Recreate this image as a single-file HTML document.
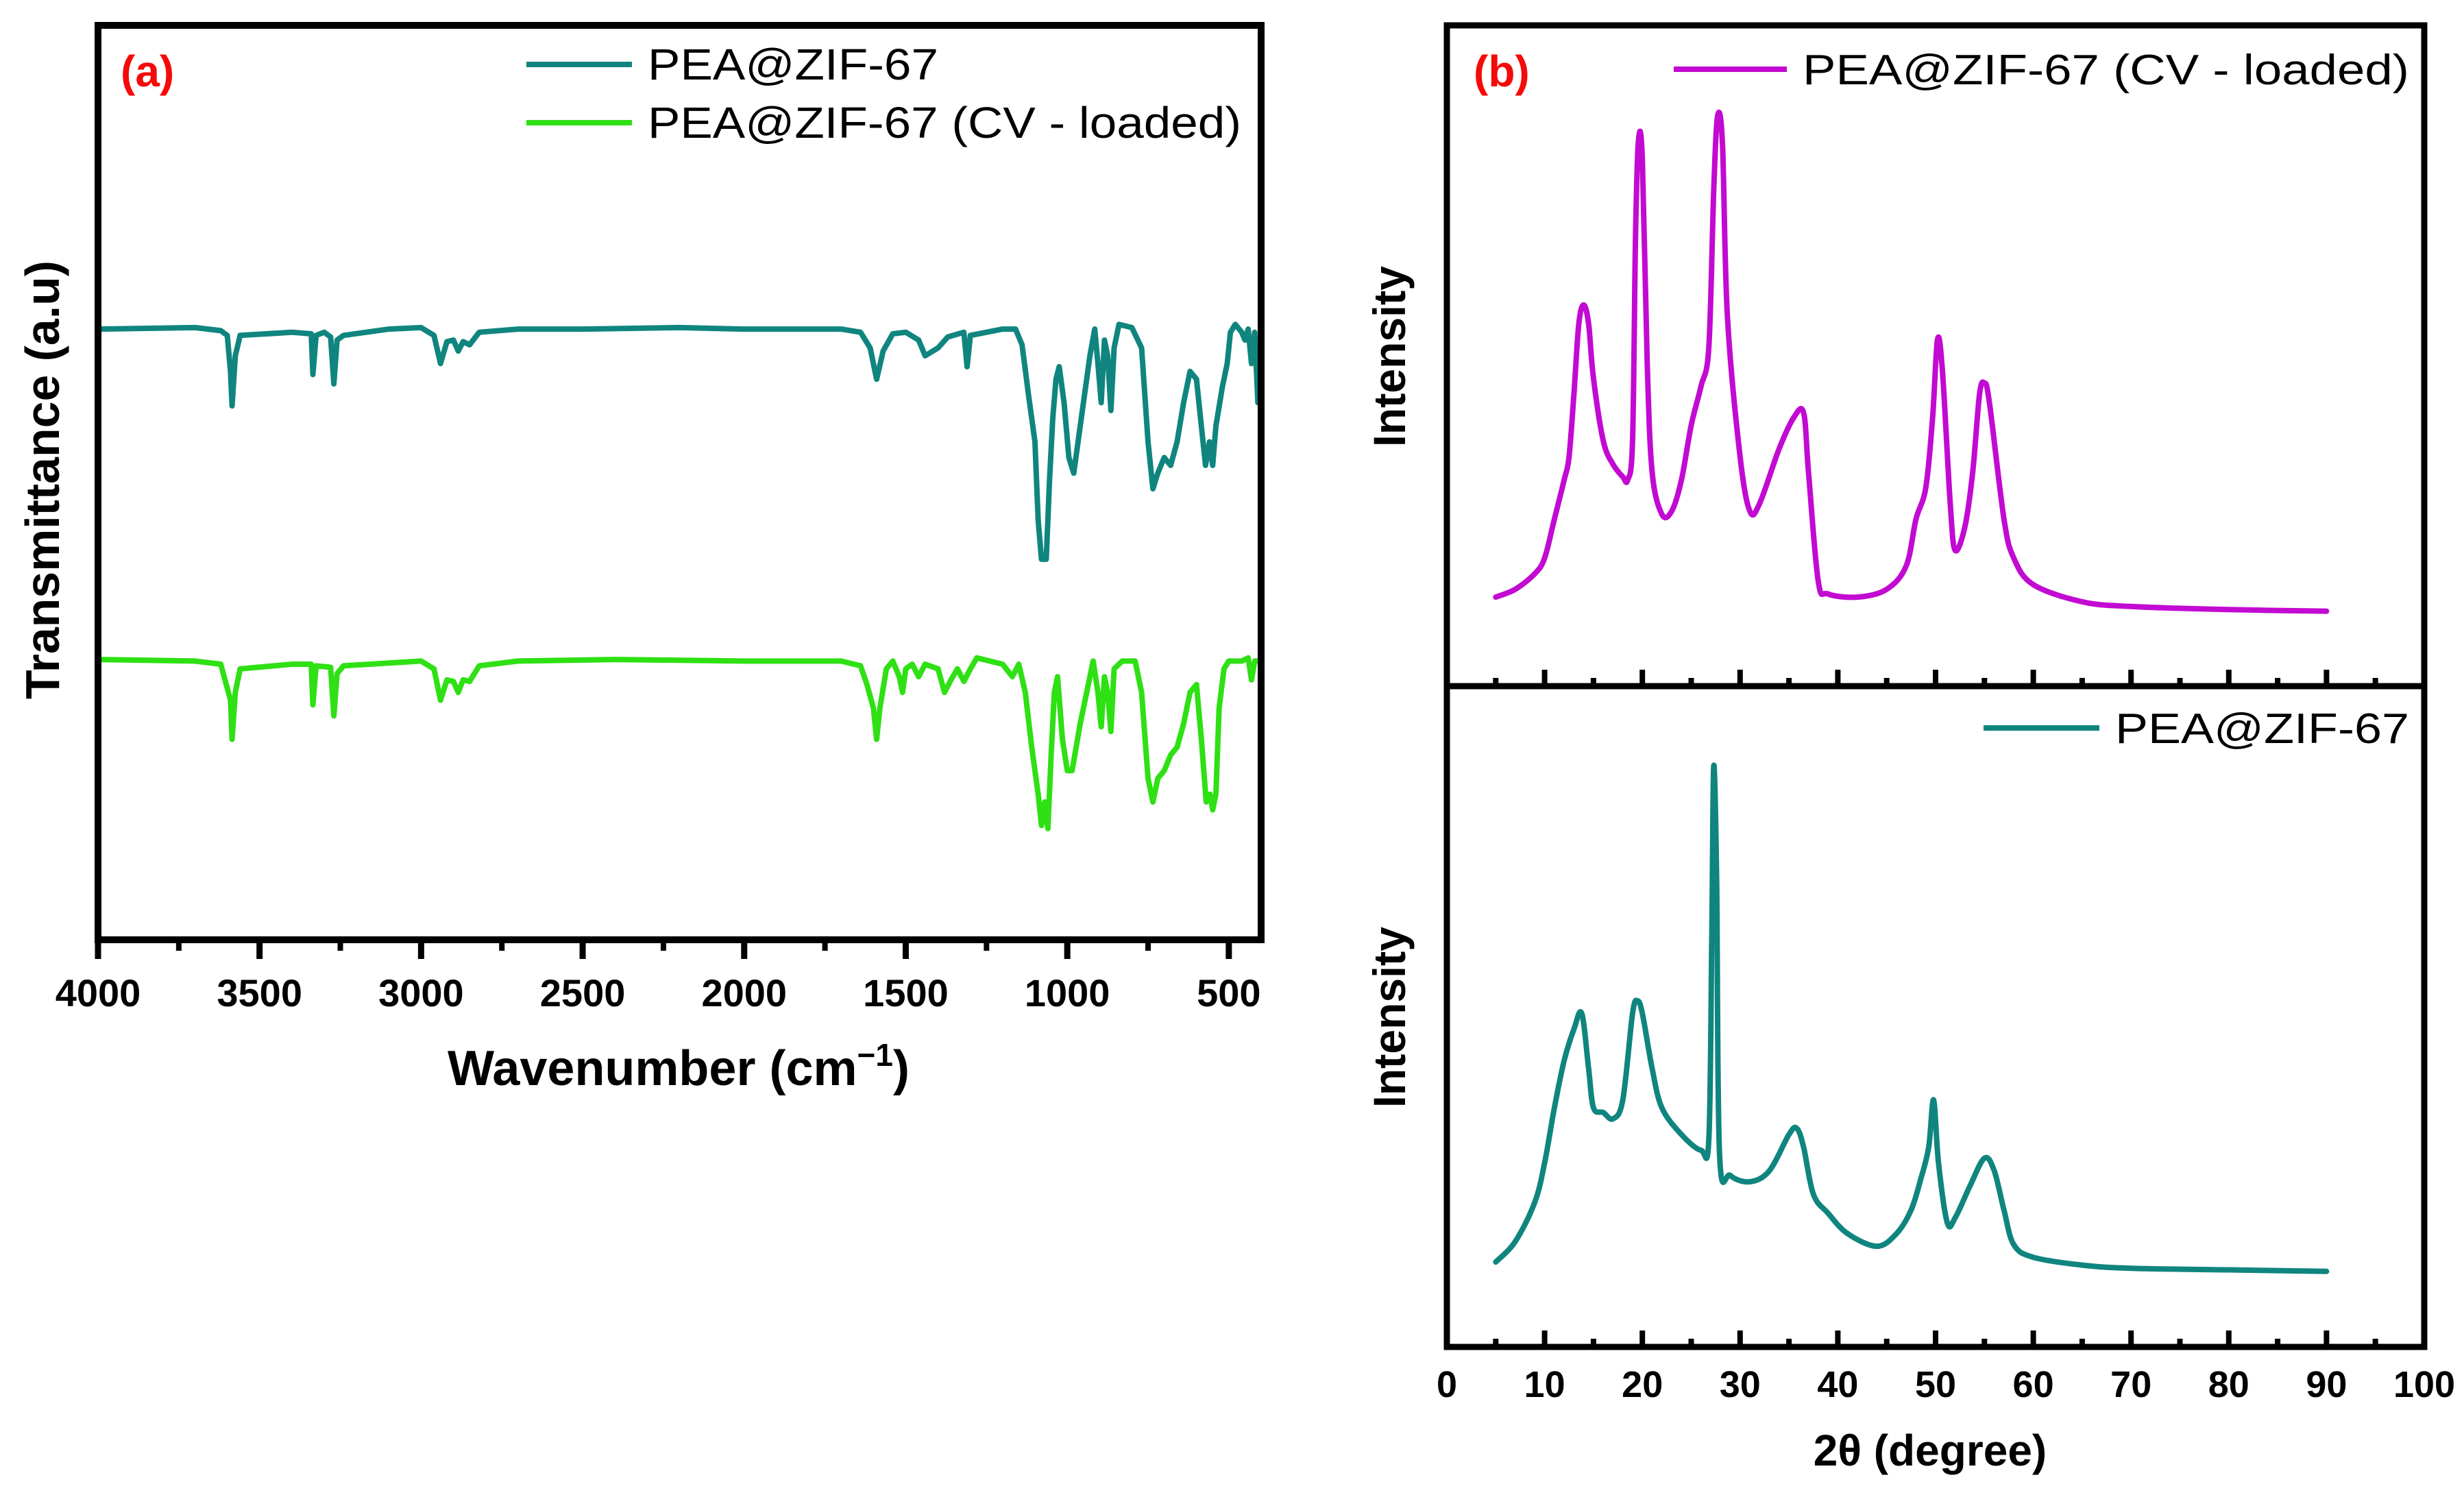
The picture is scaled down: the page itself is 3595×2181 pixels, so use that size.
<!DOCTYPE html>
<html><head><meta charset="utf-8">
<style>
html,body{margin:0;padding:0;background:#fff;}
svg{display:block;}
text{font-family:"Liberation Sans",Arial,sans-serif;}
</style></head>
<body>
<svg id="fig" width="3595" height="2181" viewBox="0 0 3595 2181" xmlns="http://www.w3.org/2000/svg">
<rect x="0" y="0" width="3595" height="2181" fill="#fff"/>
<g id="panelA"></g>
<g id="panelB"></g>
</svg>
<script>
// ---------- Panel (a) FTIR data ----------
const ftirWnTeal = [4000,3700,3620,3600,3590,3585,3575,3560,3400,3340,3335,3325,3300,3280,3270,3260,3240,3100,3000,2960,2940,2920,2900,2885,2870,2850,2820,2700,2500,2200,2000,1700,1640,1610,1590,1570,1540,1500,1460,1440,1400,1370,1320,1310,1300,1200,1160,1140,1120,1100,1090,1080,1065,1055,1045,1035,1025,1010,995,980,960,930,915,905,895,885,875,865,855,840,800,770,750,735,720,700,680,660,640,620,600,585,572,560,550,540,520,505,495,480,460,450,440,430,420,410,400];
const ftirTeal = [392,393,391,388,365,343,375,388,390,389,363,388,390,387,357,385,388,392,393,388,370,384,385,378,384,382,390,392,392,393,392,392,390,380,360,378,389,390,385,375,380,387,390,368,388,392,392,382,350,320,270,245,245,295,335,360,368,345,310,300,330,375,392,370,345,385,375,340,380,395,393,380,320,290,300,310,305,320,345,365,360,330,305,320,305,330,355,370,390,395,390,385,392,370,390,345,355];
const ftirWnGreen = [4000,3700,3620,3590,3585,3575,3560,3400,3340,3335,3325,3280,3270,3260,3240,3000,2960,2940,2920,2900,2885,2870,2850,2820,2700,2400,2000,1700,1640,1620,1600,1590,1580,1560,1540,1520,1510,1500,1480,1460,1440,1400,1380,1360,1340,1320,1300,1280,1240,1200,1170,1150,1130,1110,1090,1080,1070,1060,1050,1040,1030,1015,1000,985,960,940,920,905,895,885,875,865,855,830,790,770,750,735,720,700,680,660,640,620,600,585,570,558,550,540,530,515,500,460,440,430,420,400];
const ftirGreen = [181,180,178,155,130,160,175,178,178,152,177,176,145,172,177,180,175,155,168,167,160,168,167,177,180,181,180,180,177,165,150,130,150,175,180,170,160,175,178,170,178,175,160,168,175,167,175,182,180,178,170,178,160,125,95,75,90,73,120,160,170,130,110,110,140,160,180,160,138,170,160,135,175,180,180,160,105,90,105,110,120,125,140,160,165,130,90,95,85,95,150,175,180,180,182,168,180,180];
const ftirTicks = [4000,3500,3000,2500,2000,1500,1000,500];
const ftirMinor = [3750,3250,2750,2250,1750,1250,750];

// ---------- Panel (b) XRD data ----------
const xrdXTop = [5,7,9,10,11,12,12.5,13,13.5,14,14.5,15,16,17,18,18.5,19,19.3,19.6,20,20.5,21,22,23,24,25,26,26.8,27.3,27.7,28.2,28.7,30,31,32,34,35.5,36.5,37,38,39,42,45,47,48,49,49.7,50.2,50.7,51.5,52,53,53.8,54.5,55,55.5,57,58,60,65,70,80,90];
const xrdTop = [57,62,72,82,107,132,147,187,232,244,232,197,157,142,134,132,157,287,349,337,207,137,110,112,132,167,192,217,317,365,347,237,147,112,117,152,172,175,137,67,59,57,62,77,107,127,172,222,202,117,87,102,137,187,194,182,107,82,65,54,51,49,48];
const xrdXBot = [5,7,9,10,11,12,13,13.8,14.5,15,16,17,18,19,19.5,20,21,22,24,26,26.8,27.1,27.3,27.6,27.9,29,31,33,35,35.8,36.5,37.5,39,41,44,46,47.5,48.5,49.3,49.8,50.3,51.2,52,53.5,55,56,57,58,60,65,70,80,90];
const xrdBot = [54,67,92,117,152,182,202,212,177,152,149,145,157,212,220,212,177,152,135,125,132,257,369,297,122,109,105,112,135,139,127,97,85,72,64,72,87,107,127,157,117,79,82,102,120,112,87,65,57,52,50,49,48];
const xrdTicks = [0,10,20,30,40,50,60,70,80,90,100];
const xrdMinor = [5,15,25,35,45,55,65,75,85,95];

const NS = 'http://www.w3.org/2000/svg';
function mk(parent, tag, attrs, txt){
  const e = document.createElementNS(NS, tag);
  for (const k in attrs) e.setAttribute(k, attrs[k]);
  if (txt !== undefined) e.textContent = txt;
  parent.appendChild(e);
  return e;
}
const TEAL = '#10857f', GREEN = '#2fe014', MAG = '#c20ad2';

function line(parent, xs, ys, fx, fy, color, name, smooth){
  const P = xs.map((x,i)=>[fx(x), fy(ys[i])]);
  let d = 'M'+P[0][0].toFixed(1)+','+P[0][1].toFixed(1);
  for (let i=0;i<P.length-1;i++){
    if (!smooth){ d += ' L'+P[i+1][0].toFixed(1)+','+P[i+1][1].toFixed(1); continue; }
    const p0 = P[Math.max(i-1,0)], p1 = P[i], p2 = P[i+1], p3 = P[Math.min(i+2,P.length-1)];
    const t = 0.5/3;
    let c1x = p1[0] + (p2[0]-p0[0])*t, c1y = p1[1] + (p2[1]-p0[1])*t;
    let c2x = p2[0] - (p3[0]-p1[0])*t, c2y = p2[1] - (p3[1]-p1[1])*t;
    // keep control points within segment x range
    c1x = Math.min(Math.max(c1x,p1[0]),p2[0]); c2x = Math.min(Math.max(c2x,p1[0]),p2[0]);
    d += ' C'+c1x.toFixed(1)+','+c1y.toFixed(1)+' '+c2x.toFixed(1)+','+c2y.toFixed(1)+' '+p2[0].toFixed(1)+','+p2[1].toFixed(1);
  }
  const p = mk(parent,'path',{d:d,fill:'none',stroke:color,'stroke-width':8,'stroke-linejoin':'round','stroke-linecap':'round'});
  
  
  return p;
}

// ===== Panel A =====
const A = document.getElementById('panelA');
const aL = 143, aR = 1840, aT = 37, aB = 1371;
const ax = w => aL + (4000 - w) / 3600 * (aR - aL);
const ay = v => aB - (v - 2) / 584 * (aB - aT);
line(A, ftirWnTeal, ftirTeal, ax, ay, TEAL, 'ftir-line-pea-zif67', false);
line(A, ftirWnGreen, ftirGreen, ax, ay, GREEN, 'ftir-line-cv-loaded', false);
const fa = mk(A,'rect',{x:aL,y:aT,width:aR-aL,height:aB-aT,fill:'none',stroke:'#000','stroke-width':10});


ftirTicks.forEach(t=>{
  const x = ax(t);
  const tk = mk(A,'line',{x1:x,y1:aB,x2:x,y2:aB+28,stroke:'#000','stroke-width':9});
  
  
  const lb = mk(A,'text',{x:x,y:1468,'text-anchor':'middle','font-size':56,'font-weight':'bold'}, String(t));
  
  
});
ftirMinor.forEach(t=>{
  const x = ax(t);
  const tk = mk(A,'line',{x1:x,y1:aB,x2:x,y2:aB+16,stroke:'#000','stroke-width':8});
  
  
});
let t1 = mk(A,'text',{x:990,y:1583,'text-anchor':'middle','font-size':72,'font-weight':'bold'});


t1.appendChild(document.createTextNode('Wavenumber (cm'));
mk(t1,'tspan',{dy:-28,'font-size':46},'\u22121');
mk(t1,'tspan',{dy:28},')');
let t2 = mk(A,'text',{x:0,y:0,transform:'translate(86,700) rotate(-90)','text-anchor':'middle','font-size':70,'font-weight':'bold',textLength:640,lengthAdjust:'spacingAndGlyphs'},'Transmittance (a.u)');


let la = mk(A,'text',{x:176,y:126,'font-size':64,'font-weight':'bold',fill:'#f50a0a'},'(a)');


[[94,TEAL,'PEA@ZIF-67',424],[179,GREEN,'PEA@ZIF-67 (CV - loaded)',866]].forEach((d,i)=>{
  const g = mk(A,'g',{});
  
  
  mk(g,'line',{x1:768,y1:d[0],x2:922,y2:d[0],stroke:d[1],'stroke-width':8});
  mk(g,'text',{x:945,y:d[0]+22,'font-size':64,textLength:d[3],lengthAdjust:'spacingAndGlyphs'},d[2]);
});

// ===== Panel B =====
const B = document.getElementById('panelB');
const bL = 2111, bR = 3537, bT = 37, bM = 1001, bB = 1965;
const bx = d => bL + d / 100 * (bR - bL);
const byTop = v => bM - v / 423 * (bM - bT);
const byBot = v => bB - v / 420 * (bB - bM);
line(B, xrdXTop, xrdTop, bx, byTop, MAG, 'xrd-line-cv-loaded', true);
line(B, xrdXBot, xrdBot, bx, byBot, TEAL, 'xrd-line-pea-zif67', true);
const fb = mk(B,'rect',{x:bL,y:bT,width:bR-bL,height:bB-bT,fill:'none',stroke:'#000','stroke-width':9});


const dv = mk(B,'line',{x1:bL,y1:bM,x2:bR,y2:bM,stroke:'#000','stroke-width':9});


[bM,bB].forEach(yb=>{
  xrdTicks.forEach(t=>{
    const tk = mk(B,'line',{x1:bx(t),y1:yb,x2:bx(t),y2:yb-24,stroke:'#000','stroke-width':8});
    
    
  });
  xrdMinor.forEach(t=>{
    const tk = mk(B,'line',{x1:bx(t),y1:yb,x2:bx(t),y2:yb-12,stroke:'#000','stroke-width':8});
    
    
  });
});
xrdTicks.forEach(t=>{
  const lb = mk(B,'text',{x:bx(t),y:2038,'text-anchor':'middle','font-size':54,'font-weight':'bold'},String(t));
  
  
});
let t3 = mk(B,'text',{x:2816,y:2138,'text-anchor':'middle','font-size':64,'font-weight':'bold'},'2\u03B8 (degree)');


[[520,'y-axis-title-top'],[1484,'y-axis-title-bottom']].forEach(d=>{
  const e = mk(B,'text',{x:0,y:0,transform:'translate(2050,'+d[0]+') rotate(-90)','text-anchor':'middle','font-size':66,'font-weight':'bold',textLength:264,lengthAdjust:'spacingAndGlyphs'},'Intensity');
  
  
});
let lb2 = mk(B,'text',{x:2150,y:126,'font-size':64,'font-weight':'bold',fill:'#f50a0a'},'(b)');


[[101,MAG,2442,2607,2630,'PEA@ZIF-67 (CV - loaded)',885,'legend-entry-xrd-cv-loaded'],[1062,TEAL,2894,3063,3086,'PEA@ZIF-67',429,'legend-entry-xrd-pea-zif67']].forEach(d=>{
  const g = mk(B,'g',{});
  
  
  mk(g,'line',{x1:d[2],y1:d[0],x2:d[3],y2:d[0],stroke:d[1],'stroke-width':8});
  mk(g,'text',{x:d[4],y:d[0]+22,'font-size':62,textLength:d[6],lengthAdjust:'spacingAndGlyphs'},d[5]);
});
</script>
</body></html>
